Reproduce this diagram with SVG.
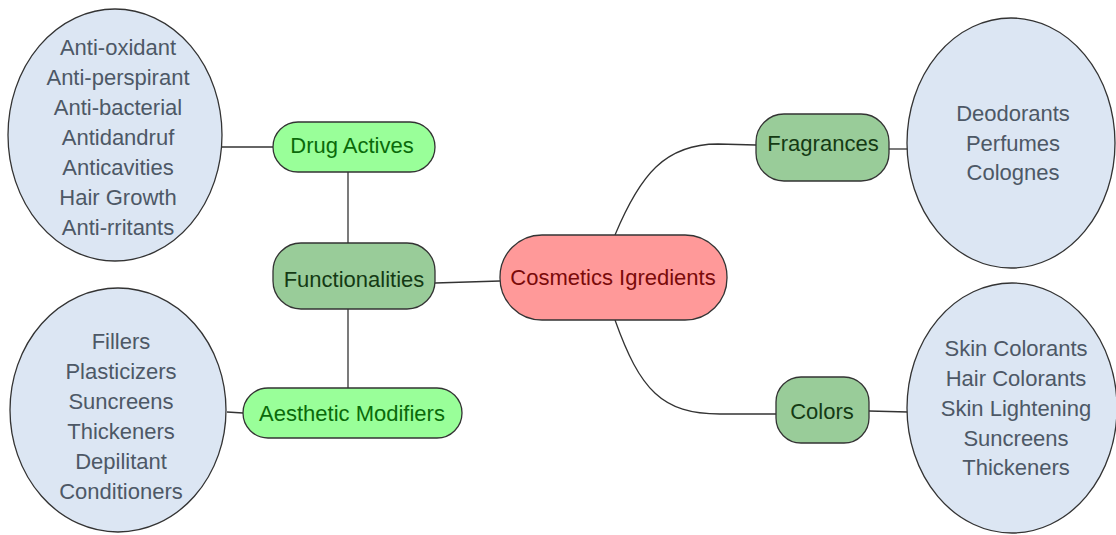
<svg xmlns="http://www.w3.org/2000/svg" width="1116" height="535" viewBox="0 0 1116 535">
<style>
text{font-family:"Liberation Sans",Arial,sans-serif;font-size:22px;text-anchor:middle;dominant-baseline:central}
.ell{fill:#dce6f3;stroke:#333;stroke-width:1.3}
.ell-t{fill:#4d5866}
.lg{fill:#99ff99;stroke:#333;stroke-width:1.3}
.lg-t{fill:#0a6a0a}
.mg{fill:#99cc99;stroke:#333;stroke-width:1.3}
.mg-t{fill:#143a14}
.pk{fill:#ff9999;stroke:#333;stroke-width:1.3}
.pk-t{fill:#7a0a0a}
.conn path{fill:none;stroke:#333;stroke-width:1.3}
</style>
<g class="conn" id="connectors">
<path d="M222,147 L273,147"/>
<path d="M348,172 L348,243"/>
<path d="M348,309 L348,388"/>
<path d="M227,412 L243,413"/>
<path d="M435,283 L500,281"/>
<path d="M615,235 C640,175 665,144 718,144 L756,145"/>
<path d="M615,320 C640,390 662,414 720,414 L776,414"/>
<path d="M889,149 L908,149"/>
<path d="M869,411 L908,412"/>
</g>
<g id="drug-list">
<ellipse class="ell" cx="115" cy="135" rx="107" ry="126"/>
<text class="ell-t" x="118" y="47">Anti-oxidant</text>
<text class="ell-t" x="118" y="77">Anti-perspirant</text>
<text class="ell-t" x="118" y="107">Anti-bacterial</text>
<text class="ell-t" x="118" y="137">Antidandruf</text>
<text class="ell-t" x="118" y="167">Anticavities</text>
<text class="ell-t" x="118" y="197">Hair Growth</text>
<text class="ell-t" x="118" y="227">Anti-rritants</text>
</g>
<g id="aesthetic-list">
<ellipse class="ell" cx="118" cy="410" rx="108" ry="122"/>
<text class="ell-t" x="121" y="341">Fillers</text>
<text class="ell-t" x="121" y="371">Plasticizers</text>
<text class="ell-t" x="121" y="401">Suncreens</text>
<text class="ell-t" x="121" y="431">Thickeners</text>
<text class="ell-t" x="121" y="461">Depilitant</text>
<text class="ell-t" x="121" y="491">Conditioners</text>
</g>
<g id="fragrance-list">
<ellipse class="ell" cx="1011" cy="143" rx="104" ry="125"/>
<text class="ell-t" x="1013" y="113">Deodorants</text>
<text class="ell-t" x="1013" y="143">Perfumes</text>
<text class="ell-t" x="1013" y="172">Colognes</text>
</g>
<g id="color-list">
<ellipse class="ell" cx="1012" cy="408" rx="105" ry="125"/>
<text class="ell-t" x="1016" y="348">Skin Colorants</text>
<text class="ell-t" x="1016" y="378">Hair Colorants</text>
<text class="ell-t" x="1016" y="408">Skin Lightening</text>
<text class="ell-t" x="1016" y="438">Suncreens</text>
<text class="ell-t" x="1016" y="467">Thickeners</text>
</g>
<g id="drug-actives">
<rect class="lg" x="273" y="122" width="162" height="50" rx="25"/>
<text class="lg-t" x="352" y="145">Drug Actives</text>
</g>
<g id="functionalities">
<rect class="mg" x="273" y="243" width="162" height="66" rx="28"/>
<text class="mg-t" x="354" y="279">Functionalities</text>
</g>
<g id="aesthetic-modifiers">
<rect class="lg" x="243" y="388" width="219" height="50" rx="25"/>
<text class="lg-t" x="352" y="413">Aesthetic Modifiers</text>
</g>
<g id="cosmetics">
<rect class="pk" x="500" y="235" width="227" height="85" rx="42"/>
<text class="pk-t" x="613" y="277">Cosmetics Igredients</text>
</g>
<g id="fragrances">
<rect class="mg" x="756" y="114" width="133" height="67" rx="28"/>
<text class="mg-t" x="823" y="143">Fragrances</text>
</g>
<g id="colors">
<rect class="mg" x="776" y="377" width="93" height="66" rx="25"/>
<text class="mg-t" x="822" y="411">Colors</text>
</g>
</svg>
